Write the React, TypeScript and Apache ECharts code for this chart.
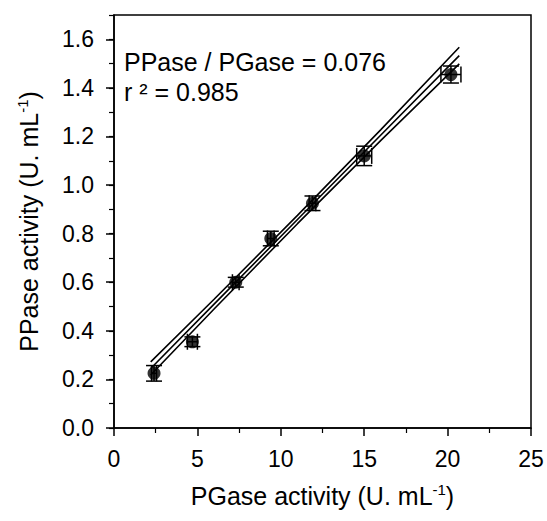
import React, { useEffect, useRef } from "react";
import * as echarts from "echarts";

// Measured points (PGase activity, PPase activity)
const pgase = [2.4, 4.7, 7.3, 9.4, 11.9, 15.0, 20.2];
const ppase = [0.225, 0.355, 0.6, 0.78, 0.925, 1.12, 1.455];
const pgaseErr = [0.15, 0.3, 0.2, 0.2, 0.2, 0.45, 0.6];
const ppaseErr = [0.032, 0.02, 0.02, 0.03, 0.03, 0.04, 0.035];

// Regression line and 95% confidence bands
const fitX = [2.2, 6, 11, 16, 20.7];
const fitMid = [0.245, 0.51, 0.858, 1.206, 1.533];
const fitUpper = [0.272, 0.53, 0.875, 1.228, 1.567];
const fitLower = [0.218, 0.49, 0.841, 1.184, 1.499];

const xTicks = [0, 5, 10, 15, 20, 25];
const yTicks = [0, 0.2, 0.4, 0.6, 0.8, 1.0, 1.2, 1.4, 1.6];

const FONT = "'Liberation Sans', Arial, Helvetica, sans-serif";

export default function App() {
  const ref = useRef<HTMLDivElement>(null);
  useEffect(() => {
    document.body.style.margin = "0";
    if (!ref.current) return;
    const chart = echarts.init(ref.current, null, { renderer: "svg" });
    const pts = pgase.map((x, i) => [x, ppase[i]]);
    const errData = pgase.map((x, i) => [x, ppase[i], pgaseErr[i], ppaseErr[i]]);
    const line = (ys: number[]) => fitX.map((x, i) => [x, ys[i]]);
    const lineStyle = { color: "#000", width: 1.6 };
    const supRich = {
      sup: { fontSize: 15, verticalAlign: "top", padding: [0, 0, 12, 0], color: "#000", fontFamily: FONT },
    };
    chart.setOption({
      animation: false,
      backgroundColor: "#fff",
      textStyle: { fontFamily: FONT },
      grid: {
        left: 114,
        right: 16,
        top: 15,
        bottom: 93,
        show: true,
        borderColor: "#000",
        borderWidth: 1.5,
      },
      xAxis: {
        type: "value",
        min: xTicks[0],
        max: xTicks[xTicks.length - 1],
        interval: 5,
        name: "PGase activity (U. mL{sup|-1})",
        nameLocation: "middle",
        nameGap: 54,
        nameTextStyle: { fontFamily: FONT, fontSize: 25, color: "#000", rich: supRich },
        axisLine: { lineStyle: { color: "#000", width: 1.5 } },
        axisTick: { length: 8, lineStyle: { color: "#000", width: 1.5 } },
        minorTick: { show: true, splitNumber: 2, length: 5, lineStyle: { color: "#000", width: 1.2 } },
        axisLabel: { fontSize: 23, color: "#000", margin: 19, fontFamily: FONT },
        splitLine: { show: false },
      },
      yAxis: [
        {
          type: "value",
          min: yTicks[0],
          max: 1.7,
          interval: 0.2,
          name: "PPase activity (U. mL{sup|-1})",
          nameLocation: "middle",
          nameRotate: 90,
          nameGap: 72,
          nameTextStyle: { fontFamily: FONT, fontSize: 25, color: "#000", rich: supRich },
          axisLine: { lineStyle: { color: "#000", width: 1.5 } },
          axisTick: { length: 8, lineStyle: { color: "#000", width: 1.5 } },
          axisLabel: {
            fontSize: 23,
            color: "#000",
            margin: 20,
            fontFamily: FONT,
            showMaxLabel: false,
            formatter: (v: number) => v.toFixed(1),
          },
          splitLine: { show: false },
        },
        {
          type: "value",
          min: 0,
          max: 1.7,
          interval: 0.1,
          position: "left",
          axisLine: { show: false },
          axisTick: { length: 5, lineStyle: { color: "#000", width: 1.2 } },
          axisLabel: { show: false },
          splitLine: { show: false },
        },
      ],
      graphic: [
        {
          type: "text",
          left: 124,
          top: 49,
          style: { text: "PPase / PGase = 0.076", font: `25px ${FONT}`, fill: "#000" },
        },
        {
          type: "text",
          left: 124,
          top: 79,
          style: { text: "r ² = 0.985", font: `25px ${FONT}`, fill: "#000" },
        },
      ],
      series: [
        { type: "line", data: line(fitUpper), showSymbol: false, symbol: "none", lineStyle, z: 2 },
        { type: "line", data: line(fitMid), showSymbol: false, symbol: "none", lineStyle, z: 2 },
        { type: "line", data: line(fitLower), showSymbol: false, symbol: "none", lineStyle, z: 2 },
        {
          type: "custom",
          data: errData,
          encode: { x: 0, y: 1 },
          z: 3,
          renderItem: (params: any, api: any) => {
            const x = api.value(0);
            const y = api.value(1);
            const xe = api.value(2);
            const ye = api.value(3);
            const top = api.coord([x, y + ye]);
            const bot = api.coord([x, y - ye]);
            const lft = api.coord([x - xe, y]);
            const rgt = api.coord([x + xe, y]);
            const c = 8;
            const st = { stroke: "#000", lineWidth: 1.5 };
            const seg = (x1: number, y1: number, x2: number, y2: number) => ({
              type: "line",
              shape: { x1, y1, x2, y2 },
              style: st,
            });
            return {
              type: "group",
              children: [
                seg(top[0], top[1], bot[0], bot[1]),
                seg(top[0] - c, top[1], top[0] + c, top[1]),
                seg(bot[0] - c, bot[1], bot[0] + c, bot[1]),
                seg(lft[0], lft[1], rgt[0], rgt[1]),
                seg(lft[0], lft[1] - c, lft[0], lft[1] + c),
                seg(rgt[0], rgt[1] - c, rgt[0], rgt[1] + c),
              ],
            };
          },
        },
        {
          type: "scatter",
          data: pts,
          symbol: "circle",
          symbolSize: 13,
          itemStyle: { color: "#000" },
          z: 4,
        },
      ],
    });
    return () => chart.dispose();
  }, []);
  return <div ref={ref} style={{ width: 547, height: 521 }} />;
}
